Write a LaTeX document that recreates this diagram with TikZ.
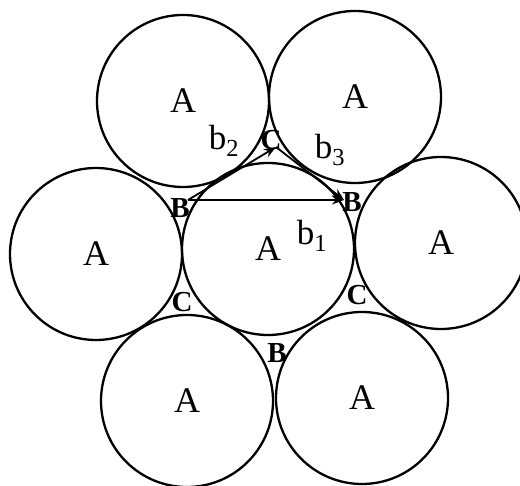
\documentclass[tikz,border=0pt]{standalone}
\usepackage{fontspec}
\setmainfont{Liberation Serif}
\usetikzlibrary{arrows.meta}
\begin{document}
\begin{tikzpicture}[x=1pt,y=-1pt,
  ball/.style={circle,draw,line width=2.3pt,minimum size=172pt,inner sep=0pt,font=\fontsize{36}{36}\selectfont},
  gap/.style={inner sep=0pt,font=\fontsize{29}{29}\selectfont\bfseries},
  vec/.style={-{Stealth[length=12pt,width=9pt]},line width=1.8pt},
  veclab/.style={inner sep=0pt,font=\fontsize{35}{35}\selectfont}]
\useasboundingbox (0,0) rectangle (520,486);
\clip (0,0) rectangle (520,486);
% spheres A
\node[ball] (tl) at (183,101) {A};
\node[ball] (tr) at (355,97) {A};
\node[ball] (l)  at (96,254) {A};
\node[ball] (c)  at (268,249) {A};
\node[ball] (r)  at (441,243) {A};
\node[ball] (bl) at (187,401) {A};
\node[ball] (br) at (362,398) {A};
% void labels
\node[gap] (Bl) at (180,208) {B};
\node[gap] (Br) at (352,202) {B};
\node[gap] (Bb) at (277,353) {B};
\node[gap] (Ct) at (271,140) {C};
\node[gap] (Cl) at (182,302) {C};
\node[gap] (Cr) at (357,295) {C};
% vector end points
\coordinate (o) at (188,200);
\coordinate (p) at (344,200);
\coordinate (q) at (276,147);
\draw[vec] (o) -- (p);
\draw[vec] (o) -- (q);
\draw[vec] (q) -- (p);
% vector labels
\node[veclab] (lb1) at (312,236) {b\textsubscript{1}};
\node[veclab] (lb2) at (224,141) {b\textsubscript{2}};
\node[veclab] (lb3) at (330,150) {b\textsubscript{3}};
\end{tikzpicture}
\end{document}
